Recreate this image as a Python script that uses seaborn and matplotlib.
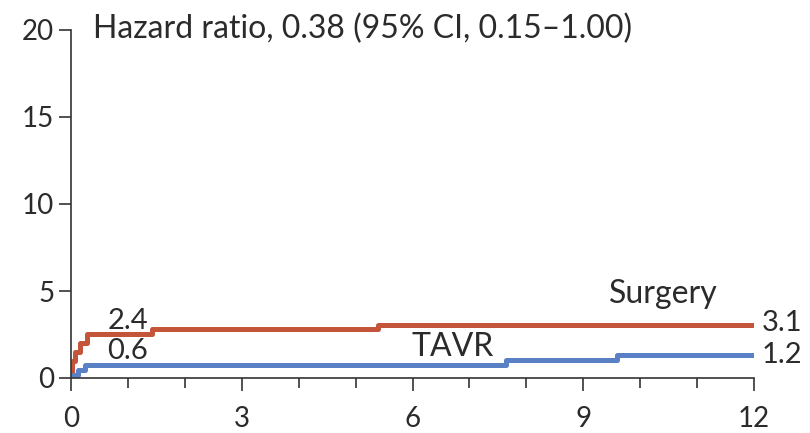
import matplotlib
matplotlib.use("Agg")
import matplotlib.pyplot as plt
import seaborn as sns
import pandas as pd
from matplotlib.ticker import MultipleLocator

# Data (months, cumulative incidence %)
surgery_months = [0.0, 0.02, 0.07, 0.16, 0.28, 1.42, 5.4, 12.0]
surgery_values = [0.0, 1.0, 1.5, 2.0, 2.55, 2.8, 3.05, 3.05]
tavr_months = [0.0, 0.03, 0.13, 0.25, 7.65, 9.6, 12.0]
tavr_values = [0.0, 0.17, 0.46, 0.75, 1.05, 1.3, 1.3]
x_ticks = [0, 3, 6, 9, 12]
y_ticks = [0, 5, 10, 15, 20]
title_text = "Hazard ratio, 0.38 (95% CI, 0.15\u20131.00)"

df = pd.concat([
    pd.DataFrame({"month": surgery_months, "value": surgery_values, "group": "Surgery"}),
    pd.DataFrame({"month": tavr_months, "value": tavr_values, "group": "TAVR"}),
])

sns.set_style("ticks")
plt.rcParams["font.family"] = ["Lato", "DejaVu Sans"]
text_color = "#2b2b2b"

fig = plt.figure(figsize=(8.1, 4.33), dpi=100)
ax = fig.add_axes([71/810, 1 - 378/433, (754 - 71)/810, (378 - 30)/433])

palette = {"Surgery": "#c4553a", "TAVR": "#5a80c6"}
sns.lineplot(data=df, x="month", y="value", hue="group", palette=palette,
             drawstyle="steps-post", linewidth=3.6, ax=ax, legend=False,
             estimator=None, sort=False)
for line in ax.get_lines():
    line.set_solid_capstyle("butt")

ax.set_xlim(0, 12)
ax.set_ylim(0, 20)
ax.set_xticks(x_ticks)
ax.set_yticks(y_ticks)
ax.xaxis.set_minor_locator(MultipleLocator(1))
ax.set_xlabel("")
ax.set_ylabel("")
for s in ["top", "right"]:
    ax.spines[s].set_visible(False)
for s in ["left", "bottom"]:
    ax.spines[s].set_color("#333333")
    ax.spines[s].set_linewidth(1.2)
ax.tick_params(axis="both", which="major", labelsize=20, colors="#333333",
               labelcolor=text_color, width=1.2)
ax.tick_params(axis="y", which="major", length=9, pad=3)
ax.tick_params(axis="x", which="major", length=9.5, pad=11)
ax.tick_params(axis="x", which="minor", width=1.2, length=7, colors="#333333")

fs = 23
ax.text(0.38, 20.05, title_text, fontsize=fs, color=text_color, va="center", ha="left")
ax.text(1.0, 3.25, "2.4", fontsize=21, color=text_color, va="center", ha="center")
ax.text(1.0, 1.55, "0.6", fontsize=21, color=text_color, va="center", ha="center")
ax.text(10.4, 4.85, "Surgery", fontsize=fs, color=text_color, va="center", ha="center")
ax.text(6.7, 1.8, "TAVR", fontsize=fs, color=text_color, va="center", ha="center")
ax.text(12.13, 3.15, "3.1", fontsize=21, color=text_color, va="center", ha="left", clip_on=False)
ax.text(12.13, 1.3, "1.2", fontsize=21, color=text_color, va="center", ha="left", clip_on=False)

fig.savefig("out.png", dpi=100)
